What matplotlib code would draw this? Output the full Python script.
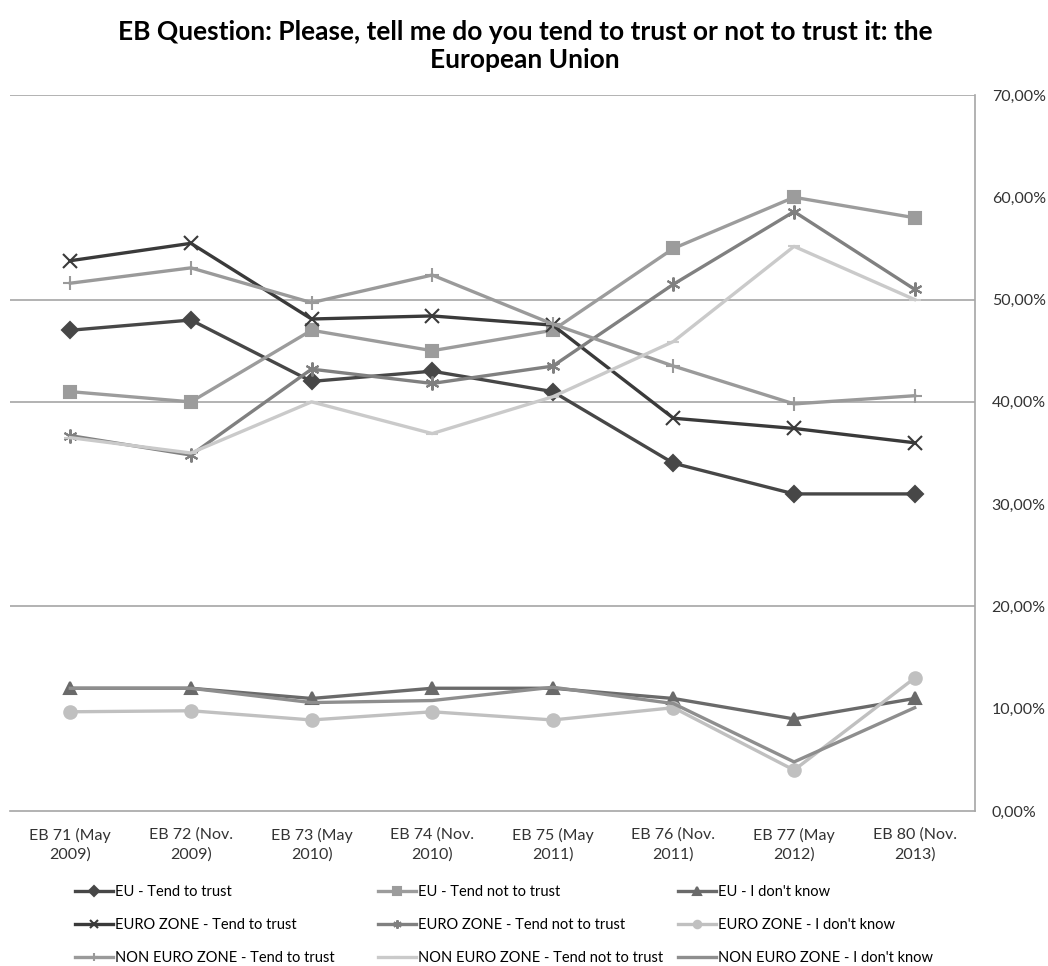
import matplotlib
matplotlib.use("Agg")
import matplotlib.pyplot as plt

plt.rcParams['font.family'] = ['Lato', 'DejaVu Sans']

# 数据
waves = ["EB 71 (May\n2009)", "EB 72 (Nov.\n2009)", "EB 73 (May\n2010)", "EB 74 (Nov.\n2010)",
         "EB 75 (May\n2011)", "EB 76 (Nov.\n2011)", "EB 77 (May\n2012)", "EB 80 (Nov.\n2013)"]

eu_trust = [47, 48, 42, 43, 41, 34, 31, 31]
eu_not_trust = [41, 40, 47, 45, 47, 55, 60, 58]
eu_dk = [12, 12, 11, 12, 12, 11, 9, 11]
ez_trust = [53.8, 55.5, 48.1, 48.4, 47.5, 38.4, 37.4, 36.0]
ez_not_trust = [36.7, 34.8, 43.2, 41.8, 43.5, 51.5, 58.6, 51.0]
ez_dk = [9.7, 9.8, 8.9, 9.7, 8.9, 10.1, 4.0, 13.0]
non_trust = [51.6, 53.1, 49.7, 52.4, 47.6, 43.5, 39.8, 40.6]
non_not_trust = [36.5, 35.0, 40.0, 36.9, 40.5, 45.9, 55.2, 50.0]
non_dk = [12, 12, 10.6, 10.8, 12.1, 10.5, 4.8, 10.1]

y_ticks = [0, 10, 20, 30, 40, 50, 60, 70]
grid_lines = [20, 40, 50, 70]

series = [
    ("EU - Tend to trust", eu_trust, "#474747", "D", 8),
    ("EU - Tend not to trust", eu_not_trust, "#9c9c9c", "s", 9),
    ("EU - I don't know", eu_dk, "#6a6a6a", "^", 9),
    ("EURO ZONE - Tend to trust", ez_trust, "#3a3a3a", "x", 10),
    ("EURO ZONE - Tend not to trust", ez_not_trust, "#808080", (6, 2, 0), 10),
    ("EURO ZONE - I don't know", ez_dk, "#c0c0c0", "o", 9),
    ("NON EURO ZONE - Tend to trust", non_trust, "#9a9a9a", "+", 10),
    ("NON EURO ZONE - Tend not to trust", non_not_trust, "#cacaca", "_", 8),
    ("NON EURO ZONE - I don't know", non_dk, "#8e8e8e", "", 0),
]

fig = plt.figure(figsize=(10.48, 9.66), dpi=100)
ax = fig.add_axes([10/1048, 1-811/966, 965/1048, 716/966])

for g in grid_lines:
    ax.axhline(g, color="#a6a6a6", lw=1.2, zorder=0)

x = list(range(len(waves)))
lines = []
for name, vals, col, mk, ms in series:
    l, = ax.plot(x, vals, color=col, lw=2.4, marker=mk if mk else None, markersize=ms,
                 markeredgewidth=1.5, markeredgecolor=col, markerfacecolor=col, label=name)
    lines.append(l)

ax.set_xlim(-0.5, len(waves) - 0.5)
ax.set_ylim(0, 70)
ax.set_xticks(x)
ax.set_xticklabels(waves, fontsize=11.5, color="#333333", linespacing=1.45)
ax.set_yticks(y_ticks)
ax.set_yticklabels(["%d,00%%" % v for v in y_ticks], fontsize=11.5, color="#333333")
ax.yaxis.tick_right()
ax.tick_params(axis="y", length=0, pad=12)
ax.tick_params(axis="x", length=0, pad=12)
for s in ["top", "left"]:
    ax.spines[s].set_visible(False)
for s in ["right", "bottom"]:
    ax.spines[s].set_color("#a6a6a6")
    ax.spines[s].set_linewidth(1.2)

fig.text(525/1048, 1-46/966, "EB Question: Please, tell me do you tend to trust or not to trust it: the\nEuropean Union",
         ha="center", va="center", fontsize=19, fontweight="bold", linespacing=1.2)

# 图例：三列分别放置
col_x = [75, 378, 678]
for j in range(3):
    hs = [lines[j], lines[j + 3], lines[j + 6]]
    fig.legend(handles=hs, labels=[h.get_label() for h in hs], loc="upper left",
               bbox_to_anchor=(col_x[j]/1048, 1-885/966), frameon=False, fontsize=10.5,
               handlelength=2.6, handletextpad=0.15, labelspacing=1.3, markerscale=0.6,
               borderaxespad=0, borderpad=0)

fig.savefig("out.png", dpi=100)
